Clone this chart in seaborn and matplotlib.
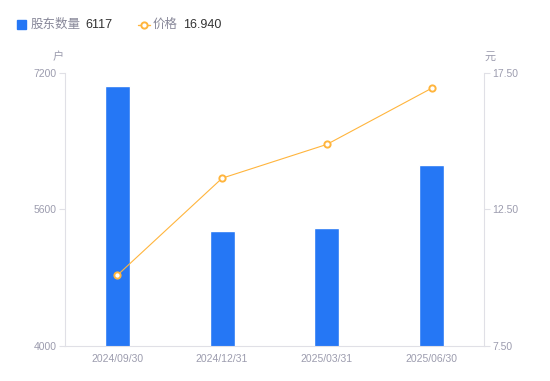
import numpy as np
import matplotlib
matplotlib.use("Agg")
import matplotlib.pyplot as plt
import seaborn as sns
from matplotlib.lines import Line2D
from matplotlib.patches import Rectangle

# Dados do gráfico
dates = ["2024/09/30", "2024/12/31", "2025/03/31", "2025/06/30"]
holders = [7050, 5350, 5378, 6117]
prices = [10.08, 13.64, 14.88, 16.94]
left_ticks = [4000, 5600, 7200]
right_ticks = [7.50, 12.50, 17.50]

BLUE = "#2577F5"
ORANGE = "#FFB53D"
GRAY = "#9C9CAE"
AXIS = "#E0E0E6"

sns.set_style("white")
plt.rcParams['font.family'] = ['Liberation Sans', 'Noto Sans CJK SC', 'DejaVu Sans']

fig = plt.figure(figsize=(5.5, 3.81), dpi=100)
ax = fig.add_axes([65 / 550, 1 - 345.5 / 381, 419 / 550, 272.5 / 381])

sns.barplot(x=dates, y=holders, ax=ax, color=BLUE, width=0.24, saturation=1)
ax.set_ylim(4000, 7200)
ax.set_xlim(-0.5, 3.5)
ax.set_yticks(left_ticks)
ax.set_yticklabels([str(v) for v in left_ticks])

ax2 = ax.twinx()
sns.lineplot(x=np.arange(len(dates)), y=prices, ax=ax2, color=ORANGE, linewidth=0.8,
             marker='o', markersize=4.5, markerfacecolor='white',
             markeredgecolor=ORANGE, markeredgewidth=1.4)
ax2.set_ylim(7.5, 17.5)
ax2.set_yticks(right_ticks)
ax2.set_yticklabels([f"{v:.2f}" for v in right_ticks])
ax2.set_xlim(-0.5, 3.5)

for a in (ax, ax2):
    a.set_xlabel("")
    a.set_ylabel("")
    a.spines['top'].set_visible(False)
    for s in ('left', 'right', 'bottom'):
        a.spines[s].set_color(AXIS)
        a.spines[s].set_linewidth(0.8)
    a.tick_params(axis='y', colors=AXIS, labelcolor=GRAY, labelsize=7.5, length=4, width=0.8, pad=2)
    a.tick_params(axis='x', labelcolor=GRAY, labelsize=7.5, length=0, pad=6)
    a.grid(False)
ax.spines['right'].set_visible(False)
ax2.spines['left'].set_visible(False)
ax2.spines['bottom'].set_visible(False)

# Unidades
fig.text(58 / 550, 1 - 57 / 381, "户", color=GRAY, fontsize=8, ha='center', va='center')
fig.text(490 / 550, 1 - 57 / 381, "元", color=GRAY, fontsize=8, ha='center', va='center')

# Legenda manual
ly = 1 - 24.5 / 381
fig.patches.append(Rectangle((17 / 550, 1 - 29 / 381), 9 / 550, 9 / 381,
                             transform=fig.transFigure, color=BLUE, figure=fig))
fig.text(31 / 550, ly, "股东数量", color="#888899", fontsize=9, va='center')
fig.text(85 / 550, ly, f"{holders[-1]}", color="#333333", fontsize=9, va='center')
fig.lines.append(Line2D([138 / 550, 150 / 550], [ly, ly],
                        transform=fig.transFigure, color=ORANGE, linewidth=1, figure=fig))
fig.lines.append(Line2D([144 / 550], [ly], transform=fig.transFigure,
                        color=ORANGE, marker='o', markersize=4.5, markerfacecolor='white',
                        markeredgewidth=1.4, linestyle='none', figure=fig))
fig.text(153 / 550, ly, "价格", color="#888899", fontsize=9, va='center')
fig.text(183 / 550, ly, f"{prices[-1]:.3f}", color="#333333", fontsize=9, va='center')

fig.savefig("out.png", dpi=100)
